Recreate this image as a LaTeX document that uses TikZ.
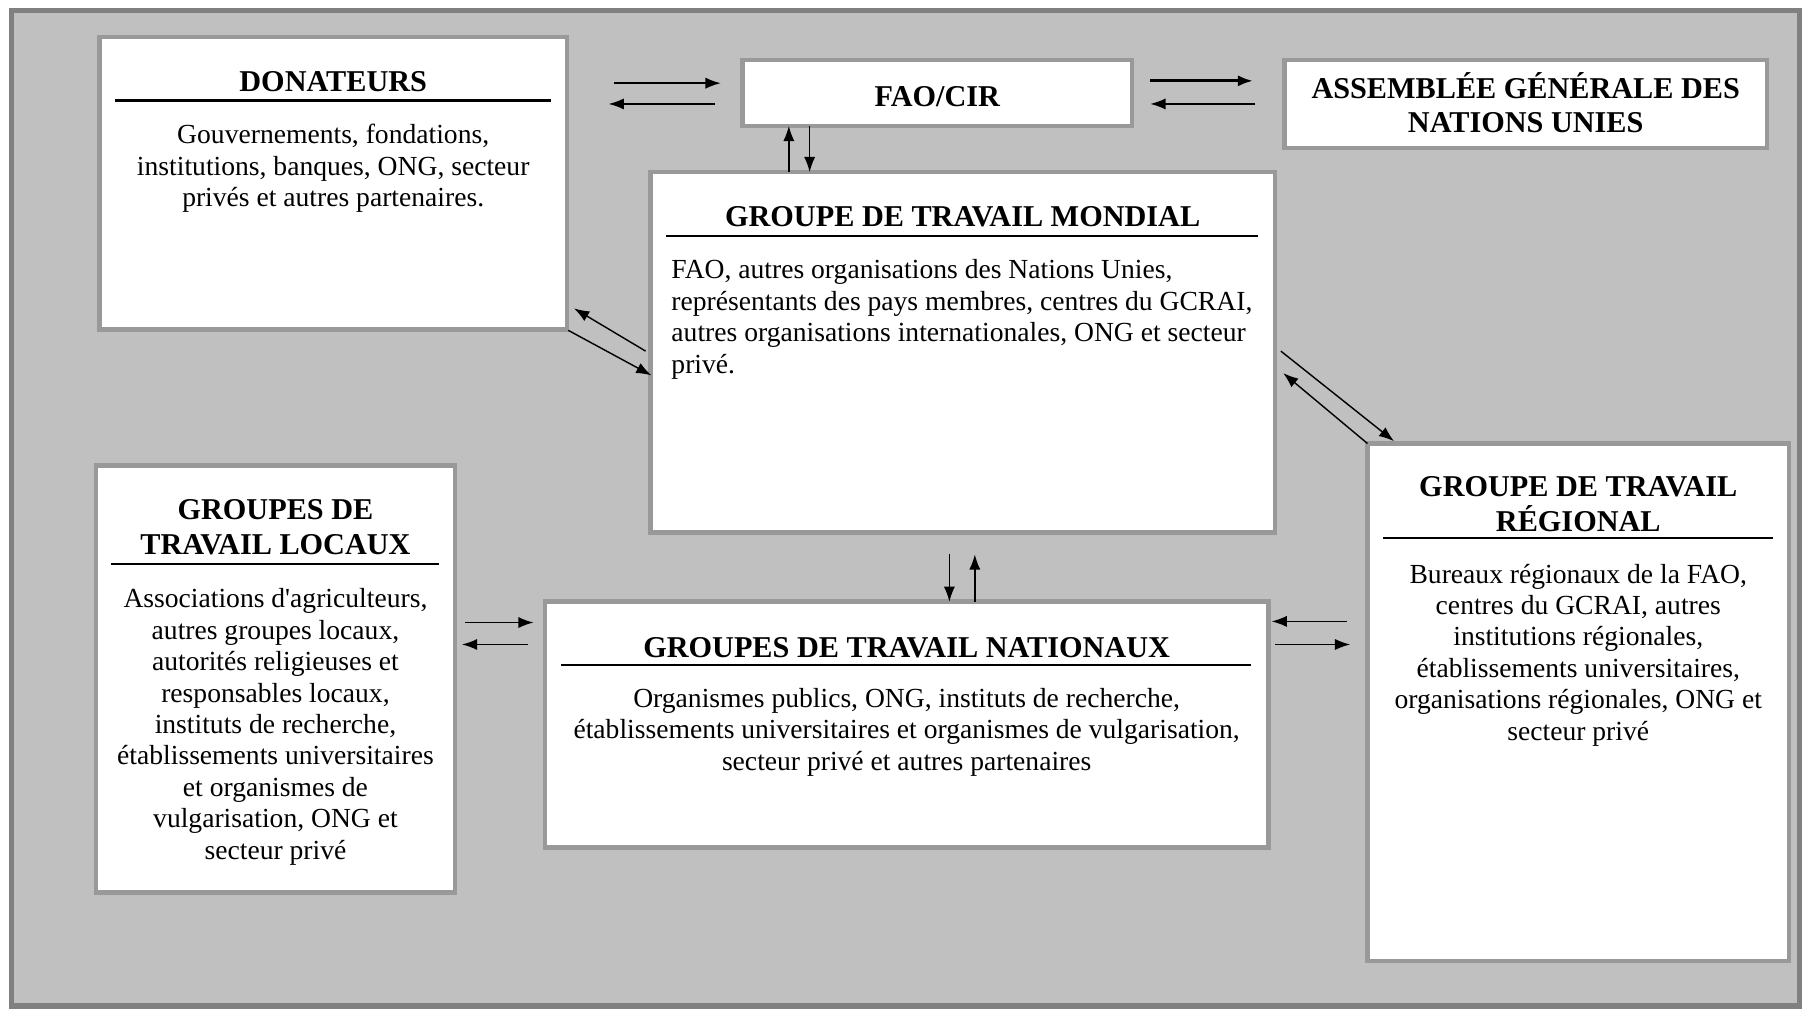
\documentclass[tikz,border=0pt]{standalone}
\usepackage{fontspec}
\setmainfont{Liberation Serif}[Ligatures=TeXOff]
\usetikzlibrary{arrows.meta,calc}
\definecolor{fondgris}{HTML}{C0C0C0}
\definecolor{cadregris}{HTML}{808080}
\definecolor{bordgris}{HTML}{999999}
\begin{document}
\begin{tikzpicture}[x=0.02cm,y=-0.02cm,
    boite/.style 2 args={draw=bordgris, line width=2.3pt, fill=white, anchor=north west,
      inner sep=0pt, outer sep=0pt, minimum width=#1*0.02cm, minimum height=#2*0.02cm},
    titre/.style={font=\fontsize{14.9}{17}\selectfont\bfseries, align=center, anchor=base, inner sep=0pt},
    corps/.style={font=\fontsize{13.6}{15.5}\selectfont, align=center, anchor=base, inner sep=0pt},
    trait/.style={line width=1pt},
    fl/.style={-{Latex[length=7.5pt,width=5.5pt]}, line width=0.7pt},
    flg/.style={fl, line width=1.5pt}]
    \useasboundingbox (0,0) rectangle (1568,873);
    \draw[cadregris, fill=fondgris, line width=2.8pt] (10,9) rectangle (1558,871);

    \node[boite={405}{253}] (don) at (86,32) {};
    \node[boite={337}{57}] (fao) at (643,52) {};
    \node[boite={418}{76}] (ag) at (1112,52) {};
    \node[boite={541}{312}] (mond) at (563,149) {};
    \node[boite={365}{448}] (reg) at (1184,384) {};
    \node[boite={311}{370}] (loc) at (83,403) {};
    \node[boite={626}{213}] (nat) at (472,521) {};

    % the base of a text of several lines is its last line
    \node[titre] (donT) at ($(don.north)+(0,47)$) {DONATEURS};
    \draw[trait] ($(don.north west)+(14,55)$) -- ($(don.north east)+(-14,55)$);
    \node[corps] (donC) at ($(don.north)+(0,147)$) {Gouvernements, fondations,\\institutions, banques, ONG, secteur\\privés et autres partenaires.};

    \node[titre] (faoT) at ($(fao.north)+(0,40)$) {FAO/CIR};
    \node[titre] (agT) at ($(ag.north)+(0,63)$) {ASSEMBLÉE GÉNÉRALE DES\\NATIONS UNIES};

    \node[titre] (mondT) at ($(mond.north)+(0,47)$) {GROUPE DE TRAVAIL MONDIAL};
    \draw[trait] ($(mond.north west)+(14,55)$) -- ($(mond.north east)+(-15,55)$);
    \node[corps, align=left, anchor=base west] (mondC) at ($(mond.north west)+(18,174)$) {FAO, autres organisations des Nations Unies,\\représentants des pays membres, centres du GCRAI,\\autres organisations internationales, ONG et secteur\\privé.};

    \node[titre] (regT) at ($(reg.north)+(0,76)$) {GROUPE DE TRAVAIL\\RÉGIONAL};
    \draw[trait] ($(reg.north west)+(13,82)$) -- ($(reg.north east)+(-14,82)$);
    \node[corps] (regC) at ($(reg.north)+(0,257)$) {Bureaux régionaux de la FAO,\\centres du GCRAI, autres\\institutions régionales,\\établissements universitaires,\\organisations régionales, ONG et\\secteur privé};

    \node[titre] (locT) at ($(loc.north)+(0,77)$) {GROUPES DE\\TRAVAIL LOCAUX};
    \draw[trait] ($(loc.north west)+(13,85)$) -- ($(loc.north east)+(-14,85)$);
    \node[corps] (locC) at ($(loc.north)+(0,341)$) {Associations d'agriculteurs,\\autres groupes locaux,\\autorités religieuses et\\responsables locaux,\\instituts de recherche,\\établissements universitaires\\et organismes de\\vulgarisation, ONG et\\secteur privé};

    \node[titre] (natT) at ($(nat.north)+(0,48)$) {GROUPES DE TRAVAIL NATIONAUX};
    \draw[trait] ($(nat.north west)+(14,55)$) -- ($(nat.north east)+(-15,55)$);
    \node[corps] (natC) at ($(nat.north)+(0,146)$) {Organismes publics, ONG, instituts de recherche,\\établissements universitaires et organismes de vulgarisation,\\secteur privé et autres partenaires};

    \draw[fl] ($(don.north east)+(41,40)$) -- ($(fao.north west)+(-19,20)$);
    \draw[fl] ($(fao.north west)+(-24,38)$) -- ($(don.north east)+(36,58)$);
    \draw[flg] ($(fao.north east)+(16,18)$) -- ($(ag.north west)+(-27,18)$);
    \draw[fl] ($(ag.north west)+(-25,38)$) -- ($(fao.north east)+(16,38)$);
    \draw[fl] ($(mond.north west)+(120,0)$) -- ($(fao.south west)+(40,0)$);
    \draw[fl] ($(fao.south west)+(58,0)$) -- ($(mond.north west)+(138,0)$);
    \draw[fl] ($(mond.north west)+(-4,155)$) -- ($(don.south east)+(6,-18)$);
    \draw[fl] ($(don.south east)+(1,1)$) -- ($(mond.north west)+(1,176)$);
    \draw[fl] ($(mond.north east)+(5,155)$) -- ($(reg.north west)+(23,-2)$);
    \draw[fl] (reg.north west) -- ($(mond.north east)+(7,174)$);
    \draw[fl] ($(mond.south west)+(259,19)$) -- ($(nat.north west)+(350,0)$);
    \draw[fl] ($(nat.north west)+(372,0)$) -- ($(mond.south west)+(281,19)$);
    \draw[fl] ($(loc.north east)+(9,136)$) -- ($(nat.north west)+(-10,18)$);
    \draw[fl] ($(nat.north west)+(-15,37)$) -- ($(loc.north east)+(6,155)$);
    \draw[fl] ($(reg.north west)+(-18,154)$) -- ($(nat.north east)+(3,17)$);
    \draw[fl] ($(nat.north east)+(6,37)$) -- ($(reg.north west)+(-15,174)$);
\end{tikzpicture}
\end{document}
